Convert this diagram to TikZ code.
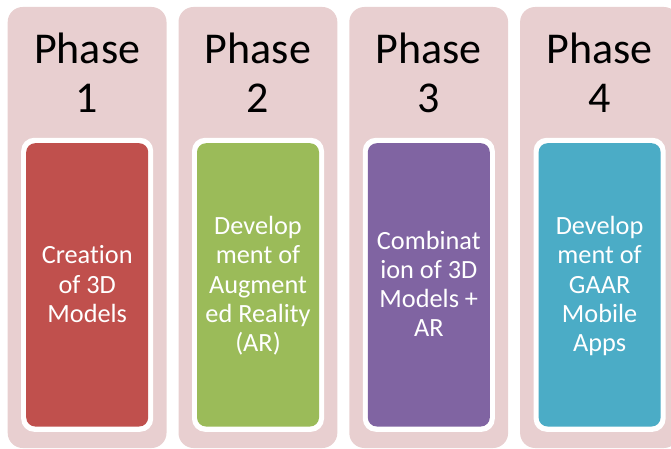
\documentclass[tikz,border=0pt]{standalone}
\usepackage{fontspec}
\setmainfont{Carlito}[Ligatures=NoCommon]
\newcommand\ls{\rule[-6.35pt]{0pt}{29.2pt}}
\newcommand\ps{\rule[-11pt]{0pt}{49pt}}
\definecolor{panelpink}{HTML}{E8CFD0}
\definecolor{cardred}{HTML}{C0504D}
\definecolor{cardgreen}{HTML}{9BBB59}
\definecolor{cardpurple}{HTML}{8064A2}
\definecolor{cardteal}{HTML}{4BACC6}
\begin{document}
\begin{tikzpicture}[x=1pt,y=-1pt,
  panel/.style={fill=panelpink, rounded corners=15pt},
  framebox/.style={fill=white, rounded corners=13pt},
  card/.style={rounded corners=9pt},
  phasetext/.style={font=\fontsize{44}{49}\selectfont, align=center, inner sep=0pt, outer sep=0pt},
  cardtext/.style={text=white, font=\fontsize{26.3}{29.2}\selectfont, align=center, inner sep=0pt, outer sep=0pt}]
\clip (0,0) rectangle (671,449);
\foreach \i/\c/\t in {
  0/cardred/{\ls Creation\\\ls of 3D\\\ls Models},
  1/cardgreen/{\ls Develop\\\ls ment of\\\ls Augment\\\ls ed Reality\\\ls (AR)},
  2/cardpurple/{\ls Combinat\\\ls ion of 3D\\\ls Models +\\\ls AR},
  3/cardteal/{\ls Develop\\\ls ment of\\\ls GAAR\\\ls Mobile\\\ls Apps}}{
  \pgfmathsetmacro\L{7.7+170.8*\i}
  \pgfmathtruncatemacro\n{\i+1}
  \path[panel] (\L,7) rectangle ++(158.8,441);
  \path[framebox] (\L+13.5,137.8) rectangle ++(132,294);
  \path[card, fill=\c] (\L+18.5,143.2) rectangle ++(122,283.3);
  \node[phasetext] (phase\n) at (\L+79.4,74.3) {\ps Phase\\\ps \n};
  \node[cardtext] (text\n) at (\L+79.5,284.85) {\t};
}
\end{tikzpicture}
\end{document}
